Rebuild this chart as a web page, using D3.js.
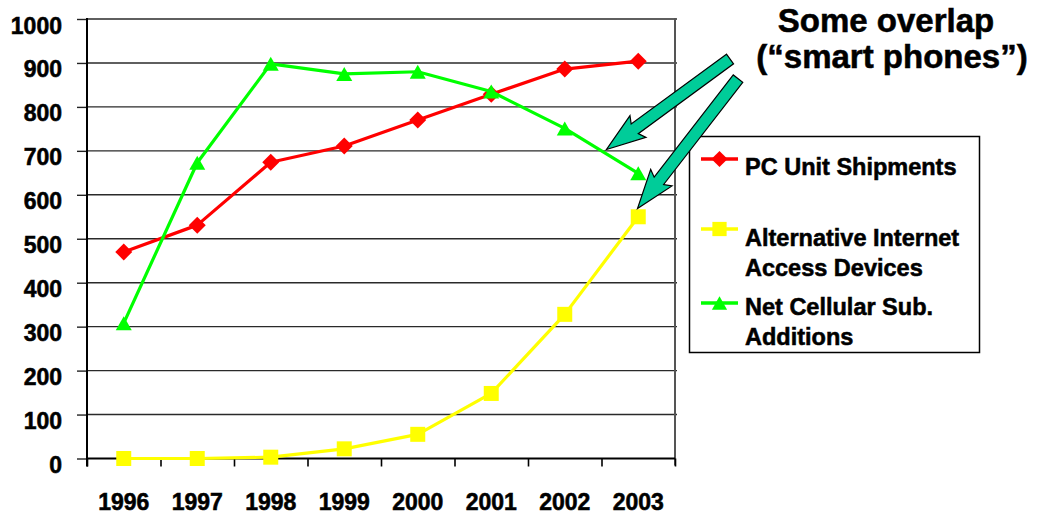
<!DOCTYPE html>
<html>
<head>
<meta charset="utf-8">
<script src="https://cdn.jsdelivr.net/npm/d3@7"></script>
<style>
  html, body { margin: 0; padding: 0; background: #fff; }
  svg { display: block; font-family: "Liberation Sans", Arial, Helvetica, sans-serif; font-weight: bold; }
  svg text { stroke: #000; stroke-width: 0.55px; paint-order: stroke; }
</style>
</head>
<body>
<svg id="chart" width="1037" height="516"></svg>
<script>
// Years on the category axis
const years = ["1996", "1997", "1998", "1999", "2000", "2001", "2002", "2003"];

// Millions of units per year
const pcShipments   = [470, 531, 674, 711, 770, 829, 886, 904];
const altDevices    = [0, 0, 3, 22, 55, 148, 328, 550];
const cellularAdds  = [308, 673, 898, 875, 880, 835, 751, 649];

const yTicks = [0, 100, 200, 300, 400, 500, 600, 700, 800, 900, 1000];

const seriesNames = ["PC Unit Shipments", "Alternative Internet Access Devices", "Net Cellular Sub. Additions"];
const legendLines = [["PC Unit Shipments"], ["Alternative Internet", "Access Devices"], ["Net Cellular Sub.", "Additions"]];
const calloutLines = ["Some overlap", "(\u201Csmart phones\u201D)"];

const series = [
  { name: seriesNames[0], values: pcShipments,  color: "#ff0000", shape: "diamond" },
  { name: seriesNames[1], values: altDevices,   color: "#ffff00", shape: "square" },
  { name: seriesNames[2], values: cellularAdds, color: "#00ff00", shape: "triangle" }
];

// Plot frame
const plot = { left: 87, right: 675, top: 19, bottom: 458.5 };

const svg = d3.select("#chart");

const x = d3.scaleBand().domain(years).range([plot.left, plot.right]).paddingInner(0).paddingOuter(0);
const xEdge = d3.scaleLinear().domain([0, years.length]).range([plot.left, plot.right]);
const y = d3.scaleLinear().domain([0, 1000]).range([plot.bottom, plot.top]);
const cx = d => x(d) + x.bandwidth() / 2;

// Horizontal gridlines
svg.append("g")
  .selectAll("line")
  .data(yTicks.filter(t => t > 0))
  .join("line")
  .attr("x1", plot.left).attr("x2", plot.right + 2)
  .attr("y1", d => y(d)).attr("y2", d => y(d))
  .attr("stroke", "#2a2a2a").attr("stroke-width", 1.4);

// Right border of plot area
svg.append("line")
  .attr("x1", plot.right).attr("x2", plot.right)
  .attr("y1", plot.top - 1).attr("y2", plot.bottom + 7)
  .attr("stroke", "#555").attr("stroke-width", 2);

// Y axis
const yAxis = d3.axisLeft(y).tickValues(yTicks).tickSize(10).tickPadding(15).tickFormat(d3.format("d"));
const gy = svg.append("g").attr("transform", `translate(${plot.left},0)`).call(yAxis);
gy.select(".domain").remove();
gy.selectAll(".tick line").attr("stroke", "#222").attr("stroke-width", 1.4);
gy.selectAll(".tick text")
  .attr("dy", 0).attr("y", 14)
  .attr("fill", "#000")
  .style("font-size", "23px").style("font-weight", "bold")
  .style("font-family", "'Liberation Sans', Arial, sans-serif");

// Y axis line (runs slightly below the category axis)
svg.append("line")
  .attr("x1", plot.left).attr("x2", plot.left)
  .attr("y1", plot.top - 1).attr("y2", plot.bottom + 8)
  .attr("stroke", "#000").attr("stroke-width", 2);

// X axis tick marks at category boundaries
const xTickAxis = d3.axisBottom(xEdge).tickValues(d3.range(0, years.length + 1)).tickSize(8).tickFormat("");
const gxt = svg.append("g").attr("transform", `translate(0,${plot.bottom})`).call(xTickAxis);
gxt.select(".domain").remove();
gxt.selectAll(".tick line").attr("stroke", "#000").attr("stroke-width", 1.6);

// X axis line
svg.append("line")
  .attr("x1", plot.left).attr("x2", plot.right)
  .attr("y1", plot.bottom).attr("y2", plot.bottom)
  .attr("stroke", "#000").attr("stroke-width", 2);

// Year labels
const xAxis = d3.axisBottom(x).tickSize(0).tickPadding(0);
const gx = svg.append("g").attr("transform", `translate(0,${plot.bottom})`).call(xAxis);
gx.select(".domain").remove();
gx.selectAll(".tick text")
  .attr("dy", 0).attr("y", 51)
  .attr("fill", "#000")
  .style("font-size", "23px").style("font-weight", "bold")
  .style("font-family", "'Liberation Sans', Arial, sans-serif");

// Marker shapes
function markerPath(shape, px, py, s) {
  if (shape === "diamond") {
    const h = 8.5 * s;
    return `M${px},${py - h}L${px + h},${py}L${px},${py + h}L${px - h},${py}Z`;
  }
  if (shape === "square") {
    const h = 7.5 * s;
    return `M${px - h},${py - h}H${px + h}V${py + h}H${px - h}Z`;
  }
  const w = 8 * s, hh = 7 * s;
  return `M${px},${py - hh}L${px + w},${py + hh}L${px - w},${py + hh}Z`;
}

const line = d3.line().x((d, i) => cx(years[i])).y(d => y(d));

series.forEach(s => {
  const g = svg.append("g");
  g.append("path")
    .attr("d", line(s.values))
    .attr("fill", "none")
    .attr("stroke", s.color)
    .attr("stroke-width", 3.2)
    .attr("stroke-linejoin", "round");
  g.selectAll("path.mk")
    .data(s.values)
    .join("path")
    .attr("class", "mk")
    .attr("d", (d, i) => markerPath(s.shape, cx(years[i]), y(d), 1))
    .attr("fill", s.color);
});

// Legend
const legend = { x: 689.5, y: 136.5, w: 290, h: 216 };
svg.append("rect")
  .attr("x", legend.x).attr("y", legend.y)
  .attr("width", legend.w).attr("height", legend.h)
  .attr("fill", "#fff").attr("stroke", "#000").attr("stroke-width", 1.5);

const legendRowY = [159, 229, 303];
const legendTextY = [175, 246, 315];
series.forEach((s, i) => {
  const ly = legendRowY[i];
  svg.append("line")
    .attr("x1", 701).attr("x2", 738)
    .attr("y1", ly).attr("y2", ly)
    .attr("stroke", s.color).attr("stroke-width", 3.5);
  svg.append("path")
    .attr("d", markerPath(s.shape, 719.5, ly, 0.95))
    .attr("fill", s.color);
  const t = svg.append("text")
    .attr("x", 745).attr("y", legendTextY[i])
    .attr("fill", "#000")
    .style("font-size", "23.5px");
  legendLines[i].forEach((txt, j) => {
    t.append("tspan").attr("x", 745).attr("dy", j === 0 ? 0 : 30).text(txt);
  });
});

// Callout arrows
function blockArrow(tail, tip, shaftW, headW, headL) {
  const dx = tip[0] - tail[0], dy = tip[1] - tail[1];
  const len = Math.hypot(dx, dy);
  const ux = dx / len, uy = dy / len;
  const nx = -uy, ny = ux;
  const bx = tip[0] - ux * headL, by = tip[1] - uy * headL;
  const p = [
    [tail[0] + nx * shaftW / 2, tail[1] + ny * shaftW / 2],
    [bx + nx * shaftW / 2 + ux * 4, by + ny * shaftW / 2 + uy * 4],
    [bx + nx * headW / 2, by + ny * headW / 2],
    tip,
    [bx - nx * headW / 2, by - ny * headW / 2],
    [bx - nx * shaftW / 2 + ux * 4, by - ny * shaftW / 2 + uy * 4],
    [tail[0] - nx * shaftW / 2, tail[1] - ny * shaftW / 2]
  ];
  return "M" + p.map(q => q.join(",")).join("L") + "Z";
}

const arrows = [
  { tail: [730, 59], tip: [606.5, 149.5] },
  { tail: [738, 78.6], tip: [637.5, 208.5] }
];
svg.append("g")
  .selectAll("path")
  .data(arrows)
  .join("path")
  .attr("d", a => blockArrow(a.tail, a.tip, 12, 27, 39))
  .attr("fill", "#00cc99")
  .attr("stroke", "#000")
  .attr("stroke-width", 1.2)
  .attr("stroke-linejoin", "miter");

// Callout text
svg.append("text")
  .attr("x", 886).attr("y", 32)
  .attr("text-anchor", "middle")
  .style("font-size", "33px")
  .text(calloutLines[0]);
svg.append("text")
  .attr("x", 892).attr("y", 68)
  .attr("text-anchor", "middle")
  .style("font-size", "33px")
  .text(calloutLines[1]);
</script>
</body>
</html>
